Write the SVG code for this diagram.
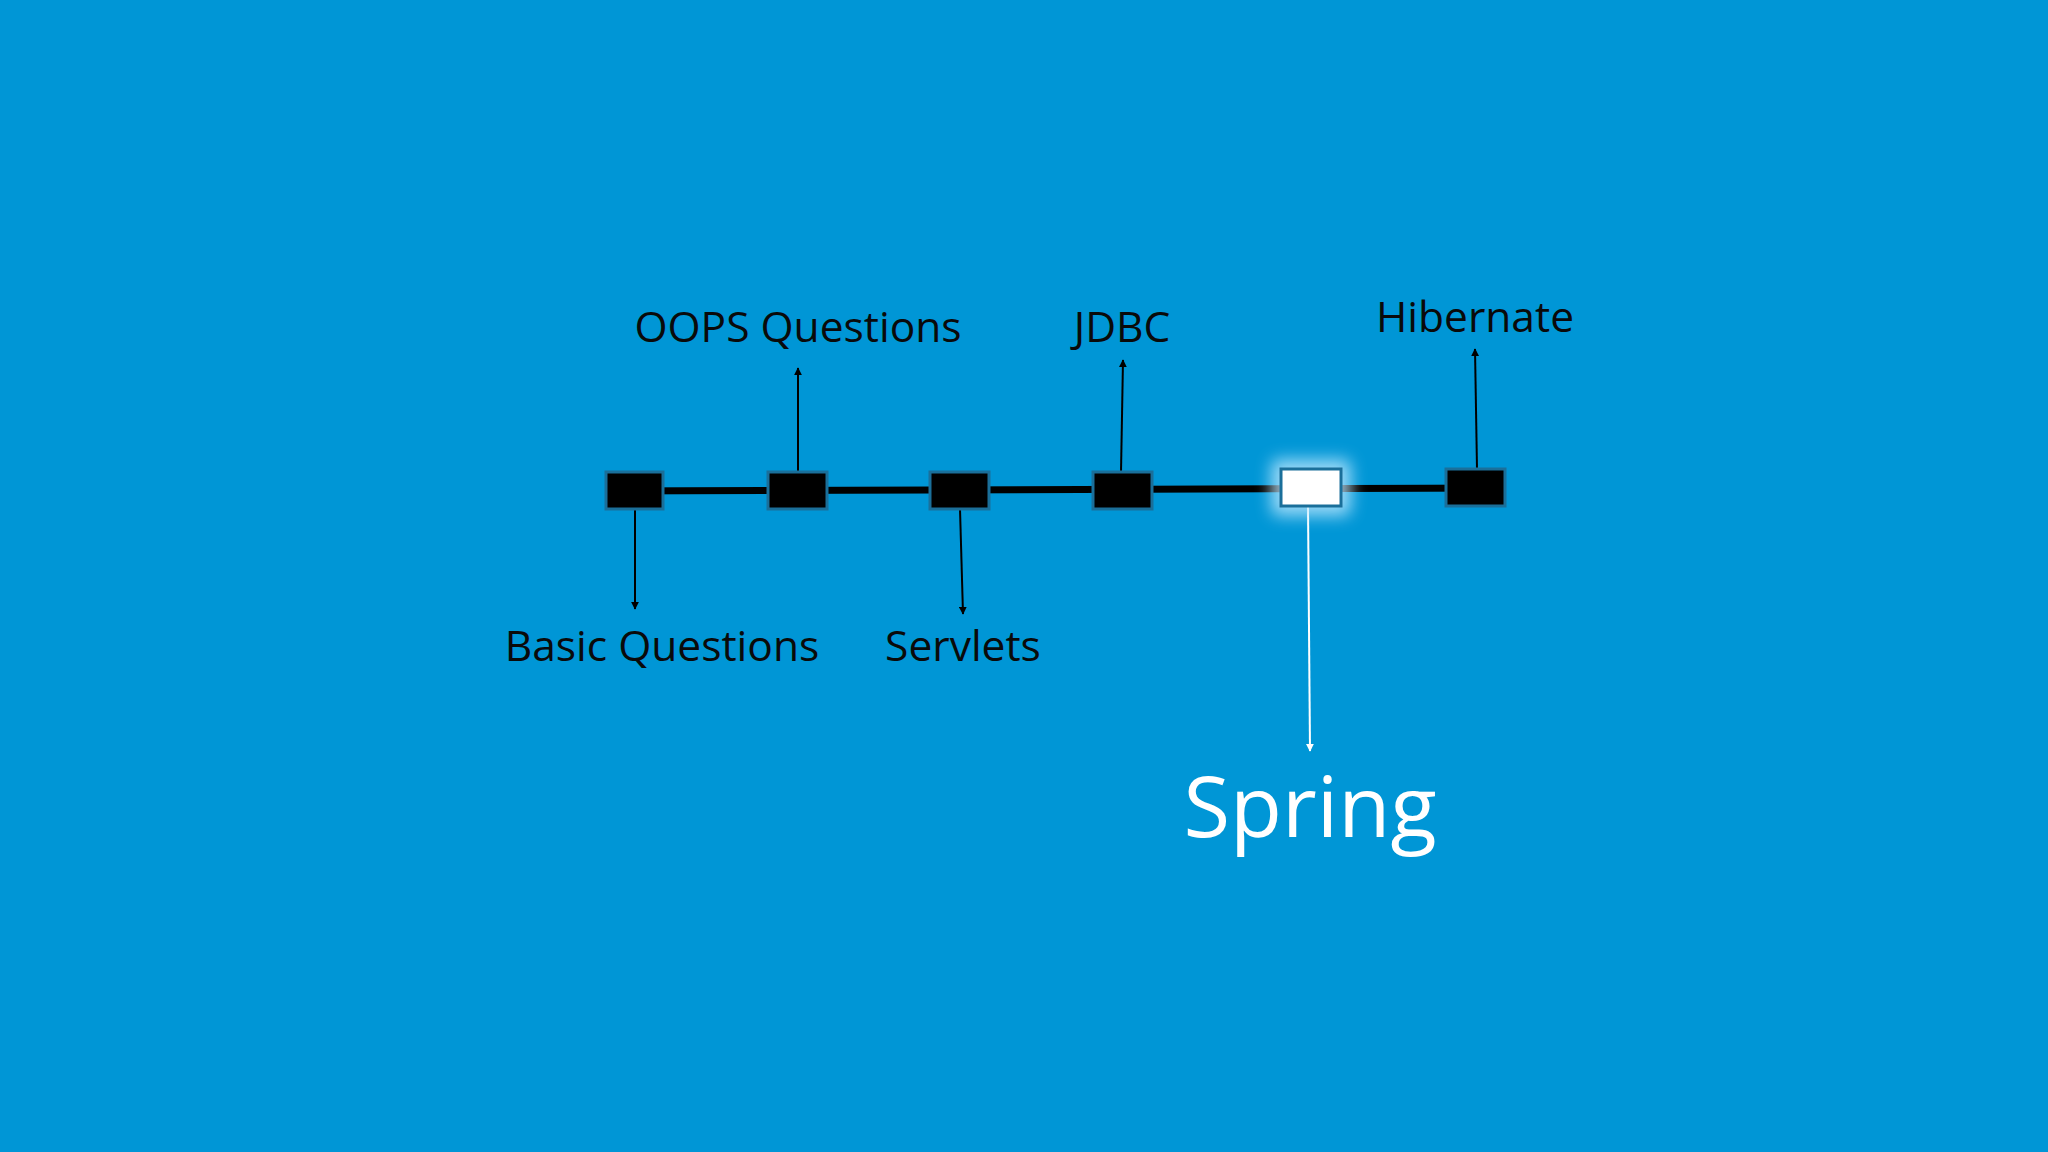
<svg xmlns="http://www.w3.org/2000/svg" width="2048" height="1152" viewBox="0 0 2048 1152">
<defs>
<style>
.box{fill:#000;stroke:#1a6f9a;stroke-width:3}
.lbl{font-family:"Open Sans","Liberation Sans",sans-serif;font-size:42.5px;fill:#0a0a0a;text-anchor:middle}
.c{stroke:#000;stroke-width:2;fill:none}
</style>
<marker id="a" viewBox="0 0 10 10" refX="9" refY="5" markerWidth="4" markerHeight="4" orient="auto"><path d="M0,0L10,5L0,10z" fill="#000"/></marker>
<marker id="w" viewBox="0 0 10 10" refX="9" refY="5" markerWidth="4" markerHeight="4" orient="auto"><path d="M0,0L10,5L0,10z" fill="#fff"/></marker>
<filter id="g" x="-50%" y="-50%" width="200%" height="200%"><feGaussianBlur stdDeviation="8"/></filter>
</defs>
<rect width="2048" height="1152" fill="#0096d6"/>
<g id="connectors">
<line x1="606" y1="491" x2="1505" y2="488" stroke="#000" stroke-width="7"/>
<line class="c" x1="635" y1="509" x2="635" y2="609" marker-end="url(#a)"/>
<line class="c" x1="798" y1="472" x2="798" y2="368" marker-end="url(#a)"/>
<line class="c" x1="960" y1="509" x2="963" y2="614" marker-end="url(#a)"/>
<line class="c" x1="1121" y1="472" x2="1123" y2="360" marker-end="url(#a)"/>
<line class="c" x1="1477" y1="469" x2="1475" y2="349" marker-end="url(#a)"/>
<line x1="1308" y1="506" x2="1310" y2="751" stroke="#fff" stroke-width="2" marker-end="url(#w)"/>
</g>
<g id="basic"><rect class="box" x="606" y="472" width="57" height="37"/><text class="lbl" x="662" y="661">Basic Questions</text></g>
<g id="oops"><rect class="box" x="768" y="472" width="59" height="37"/><text class="lbl" x="798" y="342">OOPS Questions</text></g>
<g id="servlets"><rect class="box" x="930" y="472" width="59" height="37"/><text class="lbl" x="963" y="661">Servlets</text></g>
<g id="jdbc"><rect class="box" x="1093" y="472" width="59" height="37"/><text class="lbl" x="1122" y="342">JDBC</text></g>
<g id="spring"><rect x="1271" y="459" width="80" height="57" rx="8" fill="#bfe9ff" opacity="0.8" filter="url(#g)"/><rect x="1281" y="469" width="60" height="37" fill="#fff" stroke="#1a6f9a" stroke-width="3"/><text x="1310" y="837" font-family="'Open Sans','Liberation Sans',sans-serif" font-size="85" fill="#fff" text-anchor="middle">Spring</text></g>
<g id="hibernate"><rect class="box" x="1446" y="469" width="59" height="37"/><text class="lbl" x="1475" y="332">Hibernate</text></g>
</svg>
